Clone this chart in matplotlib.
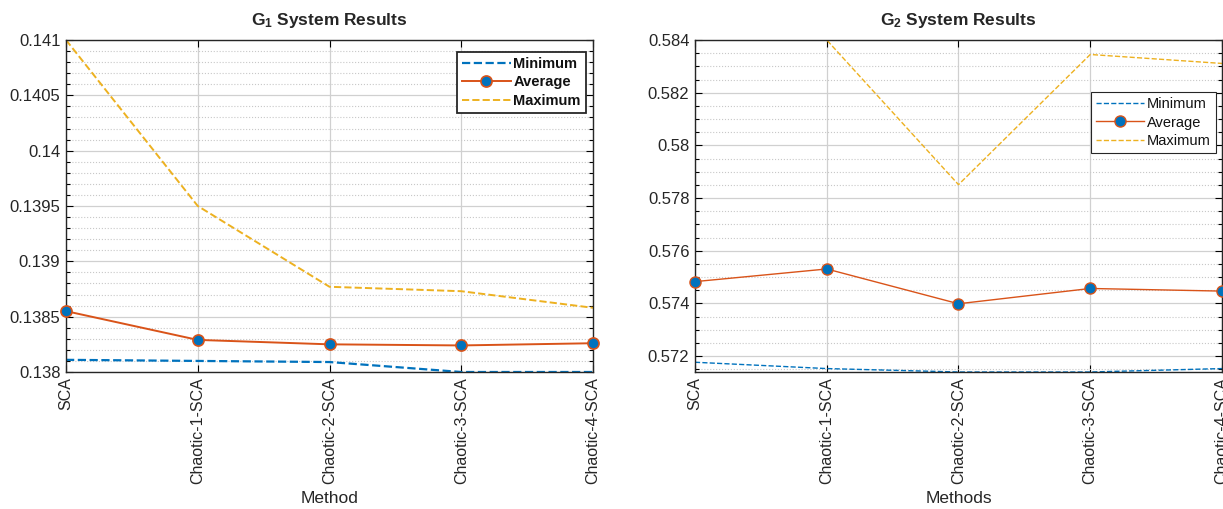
import numpy as np
import matplotlib
matplotlib.use('Agg')
from matplotlib import pyplot as plt
from matplotlib.ticker import MultipleLocator, FuncFormatter

plt.rcParams['font.family'] = ['Liberation Sans', 'DejaVu Sans']
plt.rcParams['mathtext.fontset'] = 'custom'
plt.rcParams['mathtext.bf'] = 'Liberation Sans:bold'
plt.rcParams['mathtext.rm'] = 'Liberation Sans'

methods = ['SCA', 'Chaotic-1-SCA', 'Chaotic-2-SCA', 'Chaotic-3-SCA', 'Chaotic-4-SCA']

# G1 system
g1_min = [0.13811, 0.13810, 0.13809, 0.13800, 0.13800]
g1_avg = [0.13855, 0.13829, 0.13825, 0.13824, 0.13826]
g1_max = [0.14100, 0.13950, 0.13877, 0.13873, 0.13858]

# G2 system
g2_min = [0.57177, 0.57153, 0.57140, 0.57140, 0.57153]
g2_avg = [0.57483, 0.57531, 0.57399, 0.57457, 0.57447]
g2_max = [0.58401, 0.58400, 0.57851, 0.58345, 0.58311]

c_blue = '#0072BD'
c_orange = '#D95319'
c_yellow = '#EDB120'

fig = plt.figure(figsize=(12.23, 5.09), dpi=100)
ax1 = fig.add_axes([0.05397, 0.26916, 0.43091, 0.65226])
ax2 = fig.add_axes([0.56827, 0.26916, 0.43091, 0.65226])

gfmt = FuncFormatter(lambda v, p: '%g' % round(v, 6))


def style_axes(ax, ylim, major, minor, xlabel, title, bold_legend, legend_anchor):
    x = np.arange(len(methods))
    ax.set_xlim(0, len(methods) - 1)
    ax.set_ylim(*ylim)
    ax.set_xticks(x)
    ax.set_xticklabels(methods, rotation=90, fontsize=11.5, color='#262626')
    ax.yaxis.set_major_locator(MultipleLocator(major))
    ax.yaxis.set_minor_locator(MultipleLocator(minor))
    ax.yaxis.set_major_formatter(gfmt)
    ax.tick_params(axis='y', which='both', labelsize=12)
    ax.tick_params(axis='both', which='both', direction='in', top=True, right=True,
                   labelcolor='#262626')
    ax.tick_params(axis='both', which='major', length=5, width=0.8, pad=4)
    ax.tick_params(axis='y', which='minor', length=3, width=0.8)
    ax.grid(True, which='major', color='#d0d0d0', linewidth=0.9)
    ax.grid(True, which='minor', axis='y', color='#c8c8c8', linestyle=':', linewidth=0.8)
    ax.set_axisbelow(True)
    for s in ax.spines.values():
        s.set_linewidth(1.0)
        s.set_color('#262626')
    ax.set_xlabel(xlabel, fontsize=12.5, color='#262626', labelpad=5)
    ax.set_title(title, fontsize=12.5, fontweight='bold', color='#262626', pad=11)
    leg = ax.legend(loc='upper right', bbox_to_anchor=legend_anchor, fancybox=False,
                    framealpha=1, edgecolor='#262626', fontsize=10.5,
                    handlelength=3.3, borderpad=0.35, labelspacing=0.3,
                    handletextpad=0.2, borderaxespad=0)
    leg.get_frame().set_linewidth(1.3 if bold_legend else 0.8)
    for t in leg.get_texts():
        t.set_color('#111111')
        if bold_legend:
            t.set_fontweight('bold')


x = np.arange(len(methods))

ax1.plot(x, g1_min, '--', color=c_blue, lw=1.6, label='Minimum')
ax1.plot(x, g1_avg, '-', color=c_orange, lw=1.4, marker='o', markersize=8,
         markerfacecolor=c_blue, markeredgecolor=c_orange, markeredgewidth=1.2,
         label='Average', clip_on=False, zorder=4)
ax1.plot(x, g1_max, '--', color=c_yellow, lw=1.4, label='Maximum')
style_axes(ax1, (0.138, 0.141), 0.0005, 0.0001, 'Method',
           r'$\mathbf{G_1}$ System Results', True, (0.9866, 0.964))

ax2.plot(x, g2_min, '--', color=c_blue, lw=1.0, label='Minimum')
ax2.plot(x, g2_avg, '-', color=c_orange, lw=1.0, marker='o', markersize=8,
         markerfacecolor=c_blue, markeredgecolor=c_orange, markeredgewidth=1.0,
         label='Average', clip_on=False, zorder=4)
ax2.plot(x, g2_max, '--', color=c_yellow, lw=1.0, label='Maximum')
style_axes(ax2, (0.5714, 0.584), 0.002, 0.0005, 'Methods',
           r'$\mathbf{G_2}$ System Results', False, (0.989, 0.843))

plt.savefig('out.png', dpi=100, facecolor='w')
